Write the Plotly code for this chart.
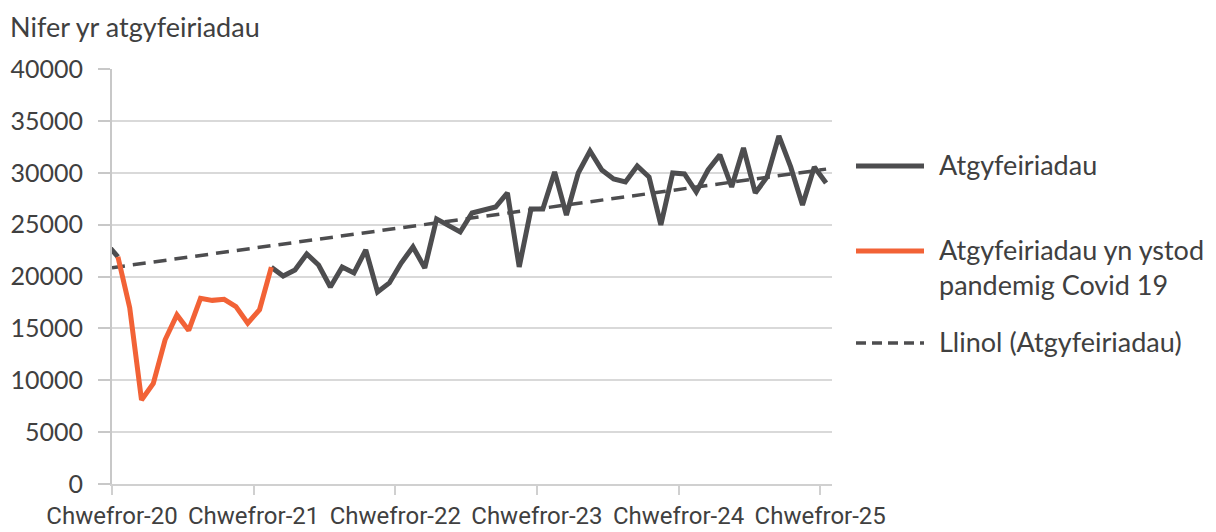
import plotly.graph_objects as go

# ---- data (monthly, Feb 2020 .. Feb 2025; Jan 2020 point precedes the axis start) ----
tick_labels = ["Chwefror-20", "Chwefror-21", "Chwefror-22", "Chwefror-23", "Chwefror-24", "Chwefror-25"]
tick_months = [0, 12, 24, 36, 48, 60]

covid_values = [21900, 17000, 8100, 9700, 13900, 16300, 14800, 17900, 17700, 17800,
                17100, 15500, 16800, 20900]  # Feb 2020 .. Mar 2021

referral_lead = [23200, 21900]  # Jan 2020, Feb 2020
referral_values = [20900, 20050, 20630, 22170, 21110, 18990, 20920, 20340, 22560, 18510,
                   19380, 21300, 22850, 20820, 25550, 24900, 24290, 26120, 26410, 26700,
                   28050, 20920, 26510, 26510, 30080, 25930, 29980, 32100, 30270, 29400,
                   29110, 30660, 29590, 24970, 29980, 29880, 28150, 30270, 31720, 28630,
                   32390, 28050, 29590, 33550, 30560, 26900, 30560, 29020]  # Mar 2021 .. Feb 2025

trend_ends = [20850, 30350]

GREY = "#4d4d4f"
ORANGE = "#F26236"
TEXT = "#404040"

covid_x = [i + 0.5 for i in range(len(covid_values))]
start_ref = len(covid_values) - 1
ref_x = [-0.5, 0.5] + [None] + [start_ref + i + 0.5 for i in range(len(referral_values))]
ref_y = referral_lead + [None] + referral_values
trend_x = [0, start_ref + len(referral_values) - 0.5]

fig = go.Figure()
fig.add_trace(go.Scatter(x=trend_x, y=trend_ends, mode="lines",
                         line=dict(color=GREY, width=3.5, dash="13px,8px"),
                         name="Llinol (Atgyfeiriadau)", hoverinfo="skip", showlegend=False))
fig.add_trace(go.Scatter(x=ref_x, y=ref_y, mode="lines", connectgaps=False,
                         line=dict(color=GREY, width=5),
                         name="Atgyfeiriadau", showlegend=False))
fig.add_trace(go.Scatter(x=covid_x, y=covid_values, mode="lines",
                         line=dict(color=ORANGE, width=5),
                         name="Atgyfeiriadau yn ystod pandemig Covid 19", showlegend=False))

OFF = 8  # page body margin
W, H = 1216 - OFF, 532 - OFF
L, T = 112 - OFF, 69 - OFF
pw, ph = 720, 415
R = W - L - pw
B = H - T - ph

def px(x):
    return (x - OFF - L) / pw

def py(y):
    return (T + ph + OFF - y) / ph

FONT = "Lato"
FS = 27

legend_items = [
    (166, GREY, "solid", "Atgyfeiriadau"),
    (251, ORANGE, "solid", "Atgyfeiriadau yn ystod<br>pandemig Covid 19"),
    (343, GREY, "dash", "Llinol (Atgyfeiriadau)"),
]
shapes = []
annotations = []
for yy, col, dash, label in legend_items:
    shapes.append(dict(type="line", xref="paper", yref="paper",
                       x0=px(856), x1=px(924), y0=py(yy), y1=py(yy),
                       line=dict(color=col, width=5 if dash == "solid" else 3.5,
                                 dash="solid" if dash == "solid" else "10px,6px")))
    annotations.append(dict(text=label, xref="paper", yref="paper", x=px(937), y=py(yy - 20),
                            xanchor="left", yanchor="top", align="left", showarrow=False,
                            font=dict(family=FONT, size=FS, color=TEXT)))

annotations.append(dict(text="Nifer yr atgyfeiriadau", xref="paper", yref="paper",
                        x=px(8), y=py(27), xanchor="left", yanchor="middle", showarrow=False,
                        font=dict(family=FONT, size=FS, color=TEXT)))

fig.update_layout(
    width=W, height=H,
    margin=dict(l=L, r=R, t=T, b=B, pad=0, autoexpand=False),
    paper_bgcolor="white", plot_bgcolor="white",
    shapes=shapes, annotations=annotations,
    showlegend=False,
)
fig.update_xaxes(range=[0, 61], tickvals=tick_months, ticktext=tick_labels, tickangle=0,
                 automargin=False,
                 showgrid=False, zeroline=False, showline=True, linecolor="#d0d0d0", linewidth=2,
                 ticks="outside", ticklen=9, tickcolor="#d0d0d0", tickwidth=2,
                 tickfont=dict(family="Roboto", size=24, color=TEXT),
                 ticklabelstandoff=0)
fig.update_yaxes(range=[0, 40000], dtick=5000, tickformat="d", automargin=False,
                 showgrid=True, gridcolor="#d9d9d9", gridwidth=2, zeroline=False,
                 showline=True, linecolor="#c8c8c8", linewidth=2,
                 ticks="outside", ticklen=12, tickcolor="#c8c8c8", tickwidth=2,
                 tickfont=dict(family=FONT, size=25, color=TEXT),
                 ticklabelstandoff=10)

fig.write_html("out.html")
